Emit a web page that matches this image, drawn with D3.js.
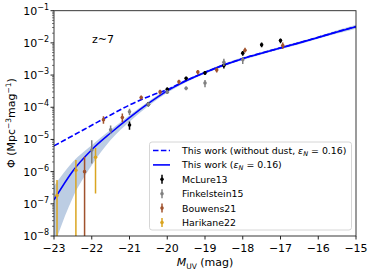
<!DOCTYPE html>
<html><head><meta charset="utf-8">
<script src="https://cdn.jsdelivr.net/npm/d3@7"></script>
<style>body{margin:0;background:#fff}svg{display:block}text{font-family:"DejaVu Sans",sans-serif}</style>
</head><body><svg id="c" width="374" height="273"></svg>
<script>
// ---- data ----
const xTicks = [-23,-22,-21,-20,-19,-18,-17,-16,-15];
const yTickExps = [-8,-7,-6,-5,-4,-3,-2,-1];
// model curves (M, log10 Phi)
const curveM = [-23,-22.5,-22,-21.5,-21,-20.5,-20,-19.5,-19,-18.5,-18,-17.5,-17,-16.5,-16,-15.5,-15];
const solidLog = [-6.88,-5.98,-5.32,-4.8,-4.32,-3.88,-3.49,-3.18,-2.92,-2.69,-2.49,-2.32,-2.16,-2.0,-1.83,-1.66,-1.5];
const bandHiLog = [-6.45,-5.69,-5.18,-4.7,-4.25,-3.82,-3.44,-3.14,-2.88,-2.65,-2.45,-2.28,-2.12,-1.96,-1.79,-1.61,-1.44];
const bandLoLog = [-8.3,-6.8,-5.8,-5.02,-4.45,-3.96,-3.55,-3.22,-2.96,-2.73,-2.53,-2.36,-2.2,-2.04,-1.87,-1.71,-1.56];
const dashLog = [-5.2,-4.88,-4.56,-4.24,-3.93,-3.67,-3.45,-3.17,-2.915,-2.685,-2.485,-2.315,-2.155,-1.995,-1.825,-1.655,-1.495];
// observations: M, Phi, lower, upper
const mclureM = [-21.0,-20.5,-20.0,-19.5,-19.0,-18.5,-18.0,-17.5,-17.0];
const mclurePhi = [2.8e-5,1.25e-4,3.6e-4,7.9e-4,1.17e-3,2.0e-3,4.8e-3,8.7e-3,1.18e-2];
const mclureLo = [2.0e-5,1.05e-4,3.1e-4,6.9e-4,1.0e-3,1.6e-3,4.0e-3,7.3e-3,9.8e-3];
const mclureHi = [3.6e-5,1.45e-4,4.1e-4,8.9e-4,1.34e-3,2.4e-3,5.6e-3,1.02e-2,1.38e-2];
const finkM = [-22.0,-21.5,-21.0,-20.5,-20.0,-19.5,-19.0,-18.5,-18.0];
const finkPhi = [4.7e-6,2.0e-5,7.2e-5,1.25e-4,2.95e-4,3.9e-4,5.7e-4,2.5e-3,3.0e-3];
const finkLo = [1.8e-6,1.5e-5,5.7e-5,1.1e-4,2.6e-4,3.4e-4,4.2e-4,1.9e-3,2.2e-3];
const finkHi = [9.5e-6,2.7e-5,9.0e-5,1.4e-4,3.4e-4,4.4e-4,7.0e-4,3.2e-3,3.6e-3];
const bouwM = [-22.19,-21.69,-21.19,-20.69,-20.19,-19.69,-19.19,-18.69,-17.94,-16.94];
const bouwPhi = [1.0e-6,4.1e-5,4.8e-5,2.0e-4,3.0e-4,6.2e-4,1.25e-3,1.45e-3,5.9e-3,8.3e-3];
const bouwLo = [1e-9,3.1e-5,3.4e-5,1.75e-4,2.5e-4,5.2e-4,1.05e-3,1.2e-3,5.0e-3,6.4e-3];
const bouwHi = [2.9e-6,5.3e-5,6.4e-5,2.3e-4,3.5e-4,7.2e-4,1.45e-3,1.7e-3,7.0e-3,1.02e-2];
const hariM = [-22.92,-22.42,-21.9];
const hariPhi = [1.8e-7,1.1e-6,2.8e-6];
const hariLo = [1e-9,1e-9,2.1e-7];
const hariHi = [5.5e-7,2.3e-6,5.4e-6];
const legendLabels = ["This work (without dust, ", "This work (", "McLure13","Finkelstein15","Bouwens21","Harikane22"];

// ---- layout ----
const svg = d3.select("#c");
const L=54, R=356, T=10.7, B=236;
const x = d3.scaleLinear().domain([-23,-15]).range([L,R]);
const y = d3.scaleLog().domain([1e-8,1e-1]).range([B,T]);
const ylog = v => y(Math.pow(10,v));

svg.append("defs").append("clipPath").attr("id","clip")
  .append("rect").attr("x",L).attr("y",T).attr("width",R-L).attr("height",B-T);
const g = svg.append("g").attr("clip-path","url(#clip)");

// band
const area = d3.area().x((d,i)=>x(curveM[i])).y0((d,i)=>ylog(bandLoLog[i])).y1((d,i)=>ylog(bandHiLog[i])).curve(d3.curveMonotoneX);
g.append("path").attr("d",area(curveM)).attr("fill","#b0c4de").attr("opacity",0.85);
const line = arr => d3.line().x((d,i)=>x(curveM[i])).y((d,i)=>ylog(arr[i])).curve(d3.curveMonotoneX)(curveM);
g.append("path").attr("d",line(solidLog)).attr("fill","none").attr("stroke","#0000ff").attr("stroke-width",1.6);
g.append("path").attr("d",line(dashLog)).attr("fill","none").attr("stroke","#0000ff").attr("stroke-width",1.6).attr("stroke-dasharray","5.5,2.4");

function series(M,P,Lo,Hi,color){
  M.forEach((m,i)=>{
    g.append("line").attr("x1",x(m)).attr("x2",x(m)).attr("y1",y(Lo[i])).attr("y2",y(Hi[i]))
      .attr("stroke",color).attr("stroke-width",1.5);
    g.append("circle").attr("cx",x(m)).attr("cy",y(P[i])).attr("r",1.8).attr("fill",color);
  });
}
series(mclureM,mclurePhi,mclureLo,mclureHi,"#000000");
series(finkM,finkPhi,finkLo,finkHi,"#808080");
series(bouwM,bouwPhi,bouwLo,bouwHi,"#a0522d");
series(hariM,hariPhi,hariLo,hariHi,"#daa520");

// frame
svg.append("rect").attr("x",L).attr("y",T).attr("width",R-L).attr("height",B-T).attr("fill","none").attr("stroke","#222").attr("stroke-width",0.9);

// x axis
const xa = svg.append("g");
xTicks.forEach(t=>{
  xa.append("line").attr("x1",x(t)).attr("x2",x(t)).attr("y1",B).attr("y2",B+3.5).attr("stroke","#222");
  xa.append("text").attr("x",x(t)).attr("y",B+16).attr("text-anchor","middle").attr("font-size",11).text("\u2212"+Math.abs(t));
});
// y axis
const ya = svg.append("g");
yTickExps.forEach(e=>{
  const yy=y(Math.pow(10,e));
  ya.append("line").attr("x1",L-3.5).attr("x2",L).attr("y1",yy).attr("y2",yy).attr("stroke","#222");
  const t=ya.append("text").attr("x",L-5).attr("y",yy+4).attr("text-anchor","end").attr("font-size",11);
  t.append("tspan").text("10");
  t.append("tspan").attr("dy",-5).attr("font-size",8).text("\u2212"+Math.abs(e));
  if(e<-1){ for(let k=2;k<=9;k++){ const ym=y(k*Math.pow(10,e));
    ya.append("line").attr("x1",L-2).attr("x2",L).attr("y1",ym).attr("y2",ym).attr("stroke","#222").attr("stroke-width",0.6);} }
});

// labels
const xl = svg.append("text").attr("x",205).attr("y",266).attr("text-anchor","middle").attr("font-size",11);
xl.append("tspan").attr("font-style","italic").text("M");
xl.append("tspan").attr("dy",2.5).attr("font-size",7.5).text("UV");
xl.append("tspan").attr("dy",-2.5).text(" (mag)");
const yl = svg.append("text").attr("transform","translate(15,123) rotate(-90)").attr("text-anchor","middle").attr("font-size",11);
yl.append("tspan").text("\u03A6 (Mpc");
yl.append("tspan").attr("dy",-4.5).attr("font-size",7.5).text("\u22123");
yl.append("tspan").attr("dy",4.5).text("mag");
yl.append("tspan").attr("dy",-4.5).attr("font-size",7.5).text("\u22121");
yl.append("tspan").attr("dy",4.5).text(")");
svg.append("text").attr("x",92).attr("y",43).attr("font-size",11).text("z~7");

// legend
const lg = svg.append("g");
lg.append("rect").attr("x",149.5).attr("y",142).attr("width",202).attr("height",88).attr("rx",2.5)
  .attr("fill","#fff").attr("fill-opacity",0.8).attr("stroke","#ccc").attr("stroke-width",0.8);
const rowY = i => 150.5 + i*14.4;
const legColors = [null,null,"#000000","#808080","#a0522d","#daa520"];
legendLabels.forEach((lab,i)=>{
  const yy=rowY(i);
  if(i<2){
    lg.append("line").attr("x1",153).attr("x2",170).attr("y1",yy).attr("y2",yy).attr("stroke","#0000ff").attr("stroke-width",1.6)
      .attr("stroke-dasharray", i===0?"5.5,2.4":null);
  } else {
    lg.append("line").attr("x1",162).attr("x2",162).attr("y1",yy-4.5).attr("y2",yy+4.5).attr("stroke",legColors[i]).attr("stroke-width",1.5);
    lg.append("circle").attr("cx",162).attr("cy",yy).attr("r",1.8).attr("fill",legColors[i]);
  }
  const t=lg.append("text").attr("x",182).attr("y",yy+3.4).attr("font-size",9.4).text(lab);
  if(i<2){
    t.append("tspan").attr("font-style","italic").text("\u03B5");
    t.append("tspan").attr("dy",2).attr("font-size",6.5).attr("font-style","italic").text("N");
    t.append("tspan").attr("dy",-2).text(" = 0.16)");
  }
});
</script></body></html>
